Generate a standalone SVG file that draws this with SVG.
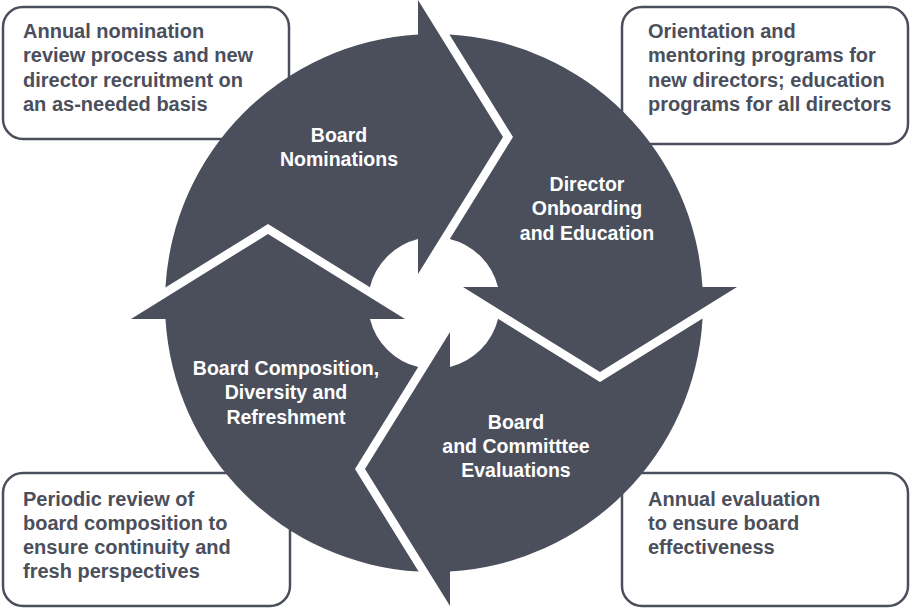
<svg xmlns="http://www.w3.org/2000/svg" xmlns:xlink="http://www.w3.org/1999/xlink" width="914" height="608" viewBox="0 0 914 608">
<style>
.box{fill:#ffffff;stroke:#4b4f5c;stroke-width:2.5}
.btxt{font-family:"Liberation Sans",Arial,sans-serif;font-weight:bold;font-size:20px;fill:#4b4f5c}
.arrow{fill:#4b4f5c}
.lbl{font-family:"Liberation Sans",Arial,sans-serif;font-weight:bold;font-size:19.5px;fill:#ffffff;text-anchor:middle}
</style>
<defs>
<path id="arrowShape" d="M165.4,287.6 L268,224 L369.9,287.2 A66,66 0 0 1 418,238.97 L418,274 L503,137 L418,0 L418,34.48 A269,269 0 0 0 165.4,287.6 Z"/>
</defs>
<g id="box-nominations">
<rect class="box" x="3" y="7" width="286" height="132" rx="20"/>
<text class="btxt"><tspan x="23" y="38">Annual nomination</tspan><tspan x="23" y="62">review process and new</tspan><tspan x="23" y="87">director recruitment on</tspan><tspan x="23" y="111">an as-needed basis</tspan></text>
</g>
<g id="box-onboarding">
<rect class="box" x="622" y="7" width="286" height="137" rx="20"/>
<text class="btxt"><tspan x="648" y="38">Orientation and</tspan><tspan x="648" y="62">mentoring programs for</tspan><tspan x="648" y="87">new directors; education</tspan><tspan x="648" y="111">programs for all directors</tspan></text>
</g>
<g id="box-composition">
<rect class="box" x="3" y="473" width="287" height="133" rx="20"/>
<text class="btxt"><tspan x="23" y="506">Periodic review of</tspan><tspan x="23" y="530">board composition to</tspan><tspan x="23" y="554">ensure continuity and</tspan><tspan x="23" y="578">fresh perspectives</tspan></text>
</g>
<g id="box-evaluations">
<rect class="box" x="622" y="473" width="286" height="133" rx="20"/>
<text class="btxt"><tspan x="648" y="506">Annual evaluation</tspan><tspan x="648" y="530">to ensure board</tspan><tspan x="648" y="554">effectiveness</tspan></text>
</g>
<g id="node-nominations">
<use xlink:href="#arrowShape" href="#arrowShape" class="arrow"/>
<text class="lbl"><tspan x="339" y="142">Board</tspan><tspan x="339" y="166">Nominations</tspan></text>
</g>
<g id="node-onboarding">
<use xlink:href="#arrowShape" href="#arrowShape" class="arrow" transform="rotate(90 434 303)"/>
<text class="lbl"><tspan x="587" y="191">Director</tspan><tspan x="587" y="215">Onboarding</tspan><tspan x="587" y="240">and Education</tspan></text>
</g>
<g id="node-evaluations">
<use xlink:href="#arrowShape" href="#arrowShape" class="arrow" transform="rotate(180 434 303)"/>
<text class="lbl"><tspan x="516" y="429">Board</tspan><tspan x="516" y="453">and Committtee</tspan><tspan x="516" y="477">Evaluations</tspan></text>
</g>
<g id="node-composition">
<use xlink:href="#arrowShape" href="#arrowShape" class="arrow" transform="rotate(270 434 303)"/>
<text class="lbl"><tspan x="286" y="375">Board Composition,</tspan><tspan x="286" y="399">Diversity and</tspan><tspan x="286" y="424">Refreshment</tspan></text>
</g>
<g id="connectors"/>
</svg>
